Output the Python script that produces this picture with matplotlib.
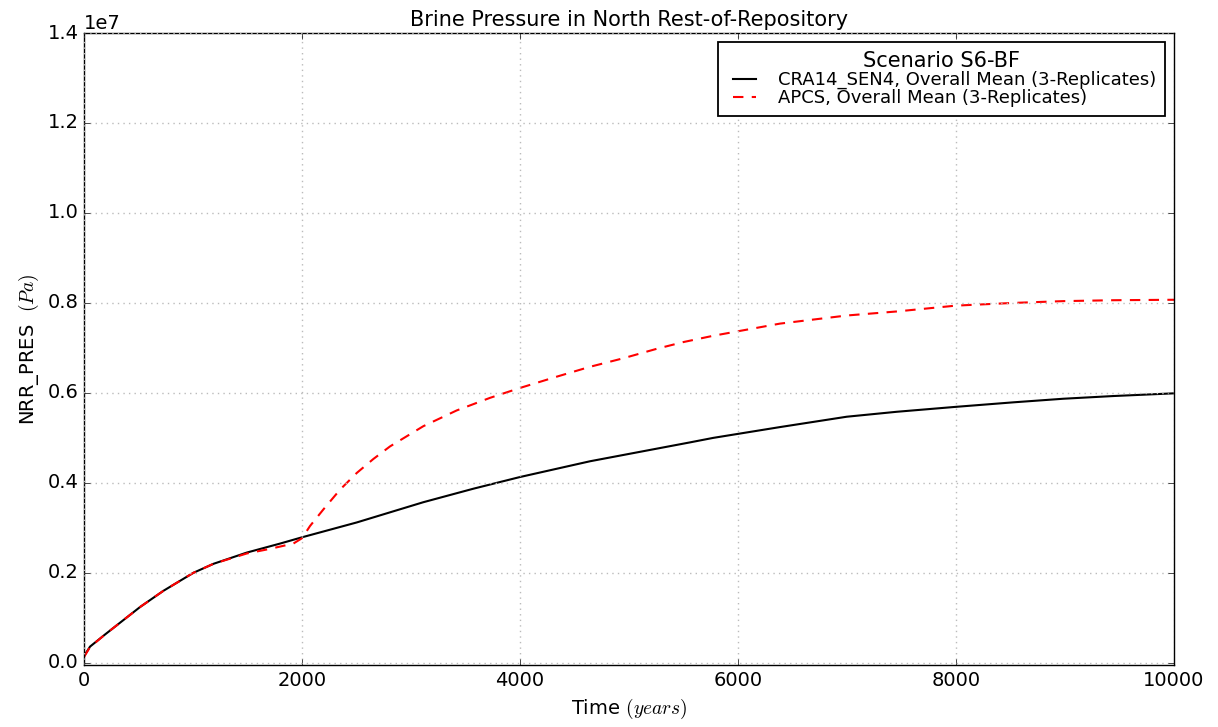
import matplotlib
matplotlib.use("Agg")
import matplotlib.pyplot as plt

plt.style.use("classic")

# Data (Pa)
time_cra = [0, 55, 193, 514, 728, 1003, 1187, 1493, 1798, 2000, 2502, 3113, 3572, 4000,
            4642, 5560, 5773, 6385, 6997, 7456, 8000, 8526, 8985, 9443, 10000]
pres_cra = [0.15e6, 0.36e6, 0.63e6, 1.24e6, 1.60e6, 2.00e6, 2.20e6, 2.45e6, 2.65e6,
            2.79e6, 3.12e6, 3.57e6, 3.87e6, 4.13e6, 4.48e6, 4.90e6, 5.00e6, 5.24e6,
            5.47e6, 5.58e6, 5.69e6, 5.79e6, 5.87e6, 5.93e6, 5.99e6]

time_apcs = [0, 55, 193, 514, 728, 1003, 1187, 1493, 1700, 1920, 2000, 2073, 2196, 2349,
             2502, 2654, 2807, 3113, 3419, 3725, 4000, 4336, 4642, 4948, 5254, 5499,
             5773, 6385, 6997, 7456, 8000, 8526, 8985, 9443, 10000]
pres_apcs = [0.13e6, 0.35e6, 0.63e6, 1.24e6, 1.60e6, 2.00e6, 2.20e6, 2.43e6, 2.53e6,
             2.65e6, 2.77e6, 3.04e6, 3.41e6, 3.85e6, 4.22e6, 4.53e6, 4.81e6, 5.26e6,
             5.61e6, 5.89e6, 6.11e6, 6.36e6, 6.58e6, 6.77e6, 6.98e6, 7.13e6, 7.27e6,
             7.54e6, 7.72e6, 7.81e6, 7.94e6, 8.00e6, 8.04e6, 8.06e6, 8.07e6]

label_cra = "CRA14_SEN4, Overall Mean (3-Replicates)"
label_apcs = "APCS, Overall Mean (3-Replicates)"

fig = plt.figure(figsize=(12.18, 7.27), dpi=100, facecolor="white")
ax = fig.add_axes([0.069, 0.0846, 0.8949, 0.87])
ax.set_facecolor("white")

ax.plot(time_cra, pres_cra, color="black", linestyle="-", linewidth=1.5, label=label_cra)
ax.plot(time_apcs, pres_apcs, color="red", linestyle="--", dashes=(7.5, 6),
        linewidth=1.5, label=label_apcs)

ax.set_xlim(0, 10000)
ax.set_ylim(-6e4, 1.4e7)
ax.set_xticks([0, 2000, 4000, 6000, 8000, 10000])
ax.set_yticks([0, 0.2e7, 0.4e7, 0.6e7, 0.8e7, 1.0e7, 1.2e7, 1.4e7])
ax.tick_params(labelsize=14)
ax.yaxis.get_offset_text().set_fontsize(14)
ax.grid(True, color="#bbbbbb", linestyle=":", linewidth=1)

ax.set_title("Brine Pressure in North Rest-of-Repository", fontsize=15)
ax.set_xlabel(r"Time $(years)$", fontsize=14)
ax.set_ylabel(r"NRR_PRES  $(Pa)$", fontsize=14)

leg = ax.legend(loc="upper right", fontsize=13, title="Scenario S6-BF",
                numpoints=2, fancybox=False, frameon=True,
                labelspacing=0.0, borderpad=0.5, handletextpad=0.9,
                handlelength=1.9)
leg.get_title().set_fontsize(15)
leg.get_frame().set_edgecolor("black")
leg.get_frame().set_linewidth(1.3)

fig.savefig("out.png", dpi=100, facecolor="white")
